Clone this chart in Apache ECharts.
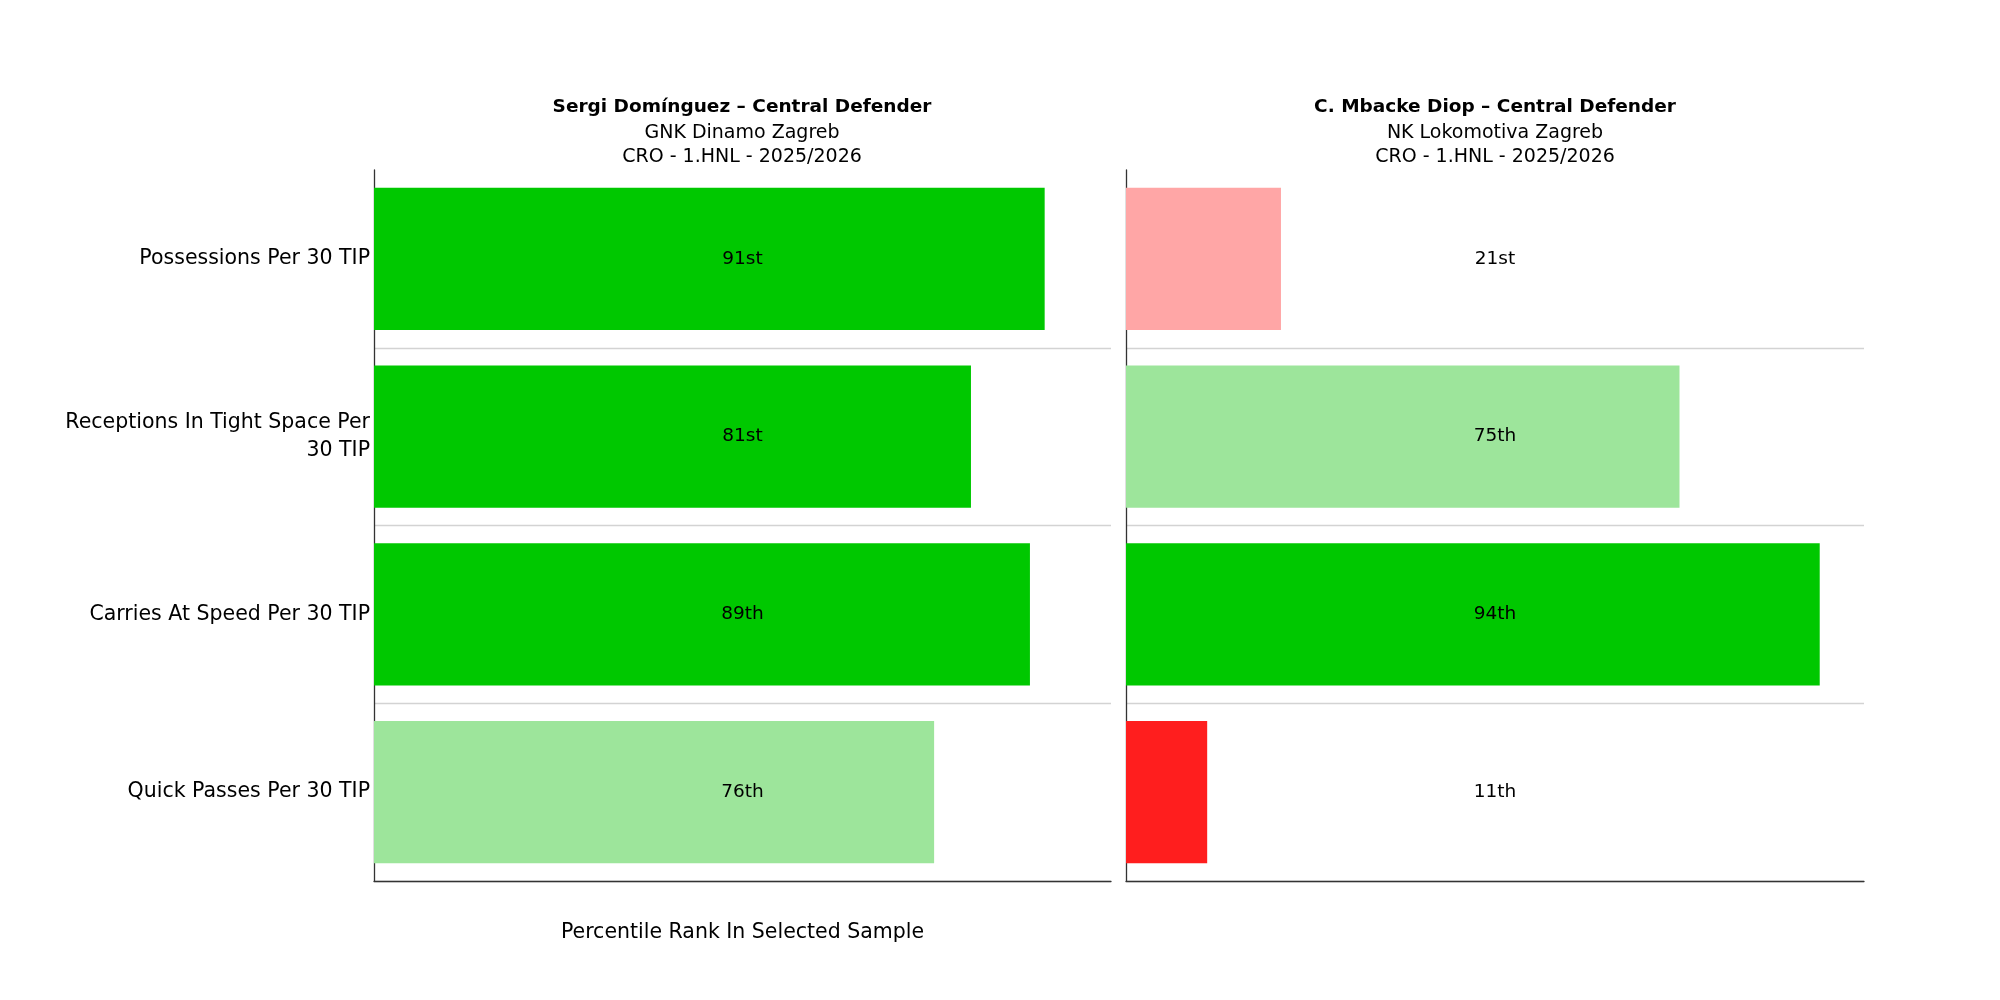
<!DOCTYPE html>
<html>
<head>
<meta charset="utf-8">
<script src="https://cdn.jsdelivr.net/npm/echarts@6/dist/echarts.min.js"></script>
<style>html,body{margin:0;padding:0;background:#fff}#c{width:2000px;height:1000px}</style>
</head>
<body>
<div id="c"></div>
<script>
const categories = ["Possessions Per 30 TIP", "Receptions In Tight Space Per 30 TIP", "Carries At Speed Per 30 TIP", "Quick Passes Per 30 TIP"];
const player1Values = [91, 81, 89, 76];
const player1Labels = ["91st", "81st", "89th", "76th"];
const player2Values = [21, 75, 94, 11];
const player2Labels = ["21st", "75th", "94th", "11th"];
const player1Title = ["Sergi Domínguez – Central Defender", "GNK Dinamo Zagreb", "CRO - 1.HNL - 2025/2026"];
const player2Title = ["C. Mbacke Diop – Central Defender", "NK Lokomotiva Zagreb", "CRO - 1.HNL - 2025/2026"];
const xAxisName = "Percentile Rank In Selected Sample";
const axisMax = 100;

const FONT = "DejaVu Sans";
function wrapText(s, width) {
  const words = s.split(" ");
  const lines = [];
  let cur = "";
  words.forEach(w => {
    if (cur && (cur + " " + w).length > width) { lines.push(cur); cur = w; }
    else cur = cur ? cur + " " + w : w;
  });
  if (cur) lines.push(cur);
  return lines.join("\n");
}
function colorFor(v) {
  if (v >= 80) return "#00c800";
  if (v >= 60) return "#9de59b";
  if (v >= 20) return "#ffa6a6";
  return "#ff1e1e";
}
function bars(vals) {
  return vals.map(v => ({ value: v, itemStyle: { color: colorFor(v) } }));
}
const grids = [
  { left: 374, width: 737, top: 170, height: 711 },
  { left: 1126, width: 738, top: 170, height: 711 }
];
function xAx(i, name) {
  return {
    type: "value", gridIndex: i, min: 0, max: axisMax,
    axisLine: { show: true, onZero: false, lineStyle: { color: "#333", width: 1.3 } },
    axisTick: { show: false }, axisLabel: { show: false }, splitLine: { show: false },
    name: name, nameLocation: "middle", nameGap: 41,
    nameTextStyle: { fontFamily: FONT, fontSize: 20.5, color: "#000" }
  };
}
function yAx(i, showLabels) {
  return {
    type: "category", gridIndex: i, data: categories, inverse: true,
    axisLine: { show: true, lineStyle: { color: "#333", width: 1.3 } },
    axisTick: { show: false },
    axisLabel: {
      show: showLabels, fontFamily: FONT, fontSize: 20.5, color: "#000", margin: 4,
      lineHeight: 28, align: "right", formatter: v => wrapText(v, 30)
    },
    splitLine: { show: true, interval: function (idx) { return idx > 0; }, lineStyle: { color: "#d3d3d3", width: 1.3 } }
  };
}
function helper(i, labels) {
  return {
    type: "bar", xAxisIndex: i, yAxisIndex: i, barWidth: "80%", barGap: "-100%",
    data: labels.map(() => axisMax), itemStyle: { color: "rgba(0,0,0,0)" }, silent: true, z: 5,
    label: { show: true, position: "inside", fontFamily: FONT, fontSize: 18.5, color: "#000",
      formatter: p => labels[p.dataIndex] }
  };
}
function titleFor(lines, x) {
  return {
    left: x, top: 93, textAlign: "center",
    text: lines[0],
    subtext: lines[1] + "\n" + lines[2],
    itemGap: 4,
    textStyle: { fontFamily: FONT, fontSize: 18.5, fontWeight: "bold", color: "#000" },
    subtextStyle: { fontFamily: FONT, fontSize: 19, color: "#000", lineHeight: 24 }
  };
}
const chart = echarts.init(document.getElementById("c"), null, { renderer: "canvas" });
chart.setOption({
  animation: false,
  backgroundColor: "#fff",
  title: [titleFor(player1Title, 737), titleFor(player2Title, 1490)],
  grid: grids,
  xAxis: [xAx(0, xAxisName), xAx(1, "")],
  yAxis: [yAx(0, true), yAx(1, false)],
  series: [
    { type: "bar", xAxisIndex: 0, yAxisIndex: 0, barWidth: "80%", data: bars(player1Values) },
    helper(0, player1Labels),
    { type: "bar", xAxisIndex: 1, yAxisIndex: 1, barWidth: "80%", data: bars(player2Values) },
    helper(1, player2Labels)
  ]
});
</script>
</body>
</html>
